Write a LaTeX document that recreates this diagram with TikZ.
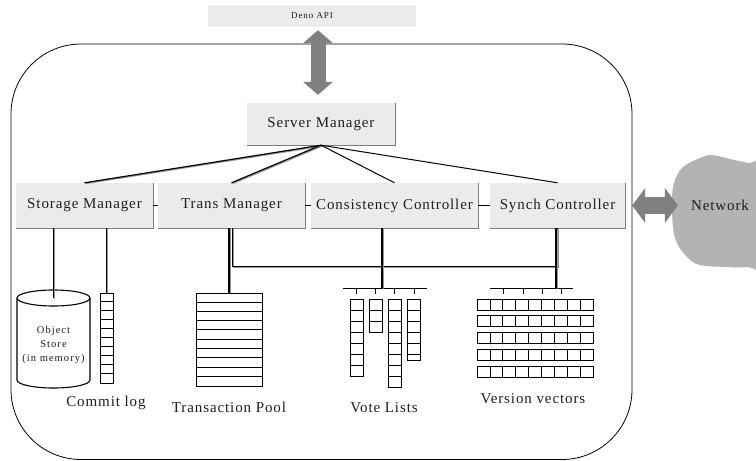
\documentclass[tikz,border=0pt]{standalone}
\usepackage{fontspec}
\setmainfont{Liberation Serif}[LetterSpace=6]
\newfontfamily\widefont{Liberation Serif}[LetterSpace=10]
\usetikzlibrary{arrows.meta, positioning}
\definecolor{boxcolor}{RGB}{235,235,235}
\definecolor{boxshadow}{RGB}{125,125,125}
\definecolor{arrowcolor}{RGB}{128,128,128}
\definecolor{cloudcolor}{RGB}{179,179,179}
\definecolor{inkcolor}{RGB}{30,30,30}
\definecolor{wireshadow}{RGB}{150,150,150}

\begin{document}
\begin{tikzpicture}[
    x=1pt, y=-1pt,
    every node/.style={font=\fontsize{15}{18}\selectfont, text=inkcolor, inner sep=0pt},
    box/.style={fill=boxcolor, align=center, minimum height=45pt},
    wire/.style={line width=1.2pt,
                 preaction={draw=wireshadow, line width=1.2pt,
                            transform canvas={xshift=1.1pt, yshift=-0.8pt}}},
    thinwire/.style={line width=1pt},
    link/.style={line width=1.6pt},
    cell/.style={draw, line width=0.8pt},
    vbigarr/.style={draw=arrowcolor, line width=15pt,
        {Triangle[length=13pt 0, width=30pt 0, line width=0pt 0]}-{Triangle[length=13pt 0, width=30pt 0, line width=0pt 0]}},
    hbigarr/.style={draw=arrowcolor, line width=17pt,
        {Triangle[length=13pt 0, width=35pt 0, line width=0pt 0]}-{Triangle[length=13pt 0, width=35pt 0, line width=0pt 0]}},
]
\useasboundingbox (0,0) rectangle (756,461);

%% ── Server frame ─────────────────────────────────────────────────────────────
\draw[line width=0.8pt, rounded corners=70pt] (11,44) rectangle (632,459.5);

%% ── Deno API and Server Manager ──────────────────────────────────────────────
\node[box, minimum width=208pt, minimum height=22pt,
      font=\widefont\fontsize{9}{11}\selectfont]
  (deno) at (312,16) {Deno API};
\node[box, minimum width=148pt, minimum height=42pt]
  (server) at (321,124) {Server Manager};

%% ── Manager row ──────────────────────────────────────────────────────────────
\node[box, minimum width=137pt] (storage) at (84.5,205.5)  {Storage Manager};
\node[box, minimum width=147pt] (trans)   at (231.5,205.5) {Trans Manager};
\node[box, minimum width=167pt] (cons)    at (394.5,205.5) {Consistency Controller};
\node[box, minimum width=135pt] (synch)   at (557.5,205.5) {Synch Controller};

\foreach \b in {server, storage, trans, cons, synch}
  \draw[boxshadow, line width=1pt] (\b.north east) -- (\b.south east) -- (\b.south west);

%% ── Fan out from Server Manager ──────────────────────────────────────────────
\foreach \b in {storage, trans}
  \draw[wire] (server.south) -- (\b.north);
\foreach \b in {cons, synch}
  \draw[thinwire] (server.south) -- (\b.north);

\draw[link] (storage.east) -- (trans.west);
\draw[link] (trans.east)   -- (cons.west);
\draw[link] (cons.east)    -- (synch.west);

%% ── Object store and commit log ──────────────────────────────────────────────
\coordinate (drum) at (53.5,298);
\draw[line width=1.1pt, fill=white]
  (17,298) -- (17,380) arc[start angle=180, end angle=360, x radius=36.5pt, y radius=8pt]
  -- (90,298);
\draw[line width=1.1pt] (drum) ellipse[x radius=36.5pt, y radius=8pt];
\node[font=\widefont\fontsize{10.5}{14}\selectfont, align=center]
  (store) at (53.5,345) {Object\\Store\\(in memory)};

\node[draw, line width=0.8pt, minimum width=13pt, minimum height=90pt] (log) at (106.5,338) {};
\foreach \i in {1,...,9}
  \draw[cell] ([yshift={-9pt*\i}]log.north west) -- ([yshift={-9pt*\i}]log.north east);

\draw[wire] (drum |- storage.south) -- (drum);
\draw[wire] (log.north |- storage.south) -- (log.north);

%% ── Transaction pool ─────────────────────────────────────────────────────────
\node[draw, line width=0.8pt, minimum width=66pt, minimum height=93pt] (pool) at (229,339.5) {};
\foreach \i in {1,...,9}
  \draw[cell] ([yshift={-9.3pt*\i}]pool.north west) -- ([yshift={-9.3pt*\i}]pool.north east);

\draw[wire] (pool.north |- trans.south) -- (pool.north);
\draw[wire] ([xshift=1pt]trans.south) -- ++(0,38.5) -| (synch.south);

%% ── Vote lists ───────────────────────────────────────────────────────────────
\coordinate (votebar) at (382,288);
\draw[cell] (343,288) -- (427,288);
\foreach \x in {356.5, 375.5, 394.5, 414}
  \draw[cell] (\x,288) -- (\x,294);
\foreach \x/\n in {350/7, 369/3, 388/8, 407/5}
  \foreach \i in {1,...,\n}
    \draw[cell] (\x,{299+11*(\i-1)}) rectangle ++(13.5,11);
\draw[cell] (407,354) rectangle ++(13.5,6);
\draw[wire] (votebar |- cons.south) -- (votebar);

%% ── Version vectors ──────────────────────────────────────────────────────────
\coordinate (vecbar) at (556,288);
\draw[cell] (490,288) -- (573,288);
\foreach \x in {503, 523, 542, 561}
  \draw[cell] (\x,288) -- (\x,294);
\foreach \r in {0,...,4}
  \foreach \c in {0,...,8}
    \draw[cell] ({477+12.9*\c},{299+16.75*\r}) rectangle ++(12.9,11);
\draw[wire] (vecbar |- synch.south) -- (vecbar);

%% ── Labels ───────────────────────────────────────────────────────────────────
\node (loglbl)  at (106,403) {Commit log};
\node (poollbl) at (229,407) {Transaction Pool};
\node (votelbl) at (384,408) {Vote Lists};
\node (veclbl)  at (533,399) {Version vectors};

%% ── Network ──────────────────────────────────────────────────────────────────
\fill[cloudcolor] plot[smooth cycle, tension=0.6] coordinates
  {(700,158) (712,155) (730,159) (748,163) (765,168) (765,262) (747,267)
   (727,267) (700,265) (687,257) (677,243) (673,227) (672,197) (675,180) (683,167)};
\node (net) at (720,205.5) {Network};

%% ── Big double arrows ────────────────────────────────────────────────────────
\draw[vbigarr] ([xshift=-3pt,yshift=-3pt]server.north |- deno.south)
  -- ([xshift=-3pt,yshift=8pt]server.north);
\draw[hbigarr] ([xshift=7pt]synch.east) -- ([xshift=-13pt]net.west);

\end{tikzpicture}
\end{document}
